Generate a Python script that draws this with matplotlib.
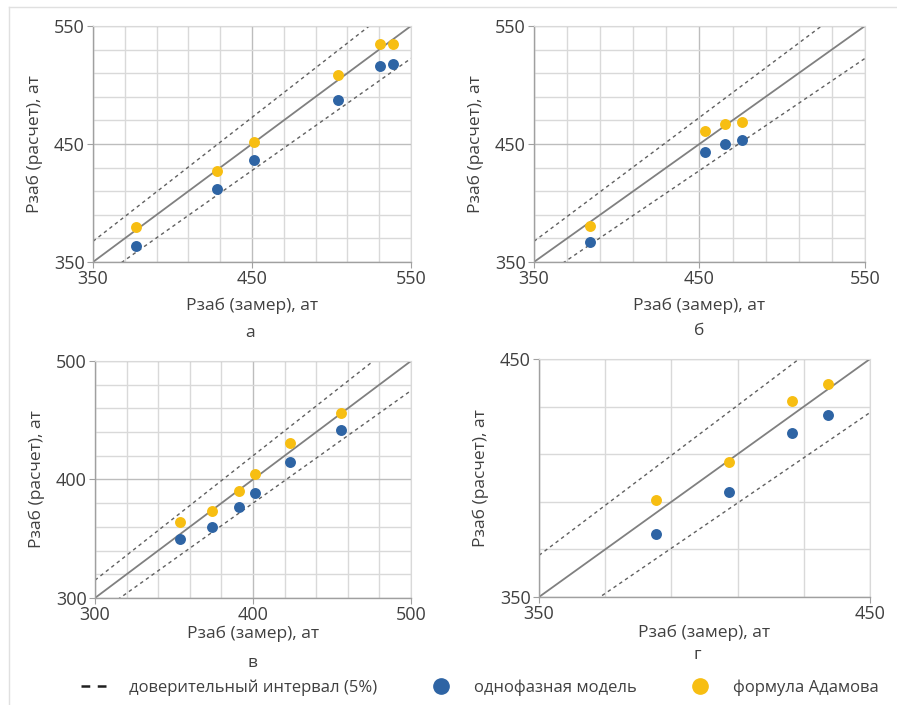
import numpy as np
from matplotlib import pyplot as plt
from matplotlib.lines import Line2D
from matplotlib.ticker import FixedLocator

plt.rcParams["font.family"] = ["Open Sans", "DejaVu Sans"]

# measured vs calculated bottomhole pressure, four wells
a_measured = [377.3, 428.2, 451.5, 503.9, 530.5, 538.4]
a_single = [363.8, 412.1, 436.6, 487.4, 516.4, 517.9]
a_adamov = [379.3, 427.3, 451.6, 508.5, 534.8, 534.8]

b_measured = [383.9, 453.4, 465.5, 475.4]
b_single = [366.9, 443.1, 449.6, 453.0]
b_adamov = [380.2, 461.4, 467.1, 468.5]

c_measured = [353.8, 374.1, 391.1, 401.1, 423.6, 455.5]
c_single = [349.5, 359.9, 376.8, 388.9, 414.5, 441.5]
c_adamov = [364.4, 373.7, 390.3, 404.9, 430.5, 456.1]

d_measured = [385.3, 407.4, 426.4, 437.3]
d_single = [376.5, 394.1, 418.7, 426.3]
d_adamov = [390.8, 406.8, 432.4, 439.4]

panel_letters = ["а", "б", "в", "г"]
x_label = "Рзаб (замер), ат"
y_label = "Рзаб (расчет), ат"
legend_labels = ["доверительный интервал (5%)", "однофазная модель", "формула Адамова"]

BLUE = "#2E64A4"
YELLOW = "#F7BE12"
TEXT = "#404040"

panels = [
    dict(x=a_measured, s=a_single, f=a_adamov, lim=(350, 550), ticks=[350, 450, 550],
         rect=[0.1037, 0.6284, 0.3545, 0.3348], letter_xy=(0.279, 0.528), xpad=7),
    dict(x=b_measured, s=b_single, f=b_adamov, lim=(350, 550), ticks=[350, 450, 550],
         rect=[0.5953, 0.6284, 0.3690, 0.3348], letter_xy=(0.780, 0.530), xpad=7),
    dict(x=c_measured, s=c_single, f=c_adamov, lim=(300, 500), ticks=[300, 400, 500],
         rect=[0.1059, 0.1518, 0.3523, 0.3362], letter_xy=(0.282, 0.060), xpad=1),
    dict(x=d_measured, s=d_single, f=d_adamov, lim=(350, 450), ticks=[350, 450],
         rect=[0.6009, 0.1532, 0.3690, 0.3376], letter_xy=(0.777, 0.071), xpad=1),
]

fig = plt.figure(figsize=(8.97, 7.05), dpi=100)

for p, letter in zip(panels, panel_letters):
    ax = fig.add_axes(p["rect"])
    lo, hi = p["lim"]
    ax.set_xlim(lo, hi)
    ax.set_ylim(lo, hi)

    # grid every 20 from the lower limit, labels only at the main values
    grid_vals = np.arange(lo, hi + 1, 20)
    ax.xaxis.set_minor_locator(FixedLocator(grid_vals))
    ax.yaxis.set_minor_locator(FixedLocator(grid_vals))
    ax.set_xticks(p["ticks"])
    ax.set_yticks(p["ticks"])
    ax.grid(which="minor", color="#D9D9D9", linewidth=1.0)
    ax.grid(which="major", color="#BDBDBD", linewidth=1.0)
    ax.set_axisbelow(True)
    ax.tick_params(which="minor", length=0)
    ax.tick_params(which="major", length=4, color="#A0A0A0", labelsize=13,
                   labelcolor=TEXT, pad=2)
    for side in ["top", "right"]:
        ax.spines[side].set_color("#D9D9D9")
    for side in ["left", "bottom"]:
        ax.spines[side].set_color("#A0A0A0")
        ax.spines[side].set_linewidth(1.0)

    # y = x and +-5 % band
    line_x = np.array([lo, hi])
    ax.plot(line_x, line_x, color="#808080", linewidth=1.3, zorder=2)
    ax.plot(line_x, line_x * 1.05, color="#606060", linewidth=1.0,
            linestyle=(0, (2.5, 2.5)), zorder=2)
    ax.plot(line_x, line_x * 0.95, color="#606060", linewidth=1.0,
            linestyle=(0, (2.5, 2.5)), zorder=2)

    ax.scatter(p["x"], p["s"], s=62, color=BLUE, zorder=3, linewidths=0)
    ax.scatter(p["x"], p["f"], s=62, color=YELLOW, zorder=3, linewidths=0)

    ax.set_xlabel(x_label, fontsize=12.5, color=TEXT, labelpad=p["xpad"])
    ax.set_ylabel(y_label, fontsize=12.5, color=TEXT, labelpad=8)
    fig.text(p["letter_xy"][0], p["letter_xy"][1], letter, fontsize=12.5,
             color=TEXT, ha="center", va="center")

# frame lines at the top and left of the picture
fig.add_artist(Line2D([0.010, 1.0], [0.990, 0.990], color="#E0E0E0", linewidth=1.0))
fig.add_artist(Line2D([0.010, 0.010], [0.0, 0.990], color="#E0E0E0", linewidth=1.0))

handles = [
    Line2D([], [], color="#202020", linewidth=1.8, linestyle=(0, (3.5, 3))),
    Line2D([], [], color=BLUE, marker="o", markersize=11, linestyle="none"),
    Line2D([], [], color=YELLOW, marker="o", markersize=11, linestyle="none"),
]
fig.legend(handles, legend_labels, loc="center", bbox_to_anchor=(0.535, 0.024),
           ncol=3, frameon=False, fontsize=12, labelcolor=TEXT,
           handlelength=1.8, handletextpad=1.1, columnspacing=2.9)

plt.savefig("out.png", dpi=100)
